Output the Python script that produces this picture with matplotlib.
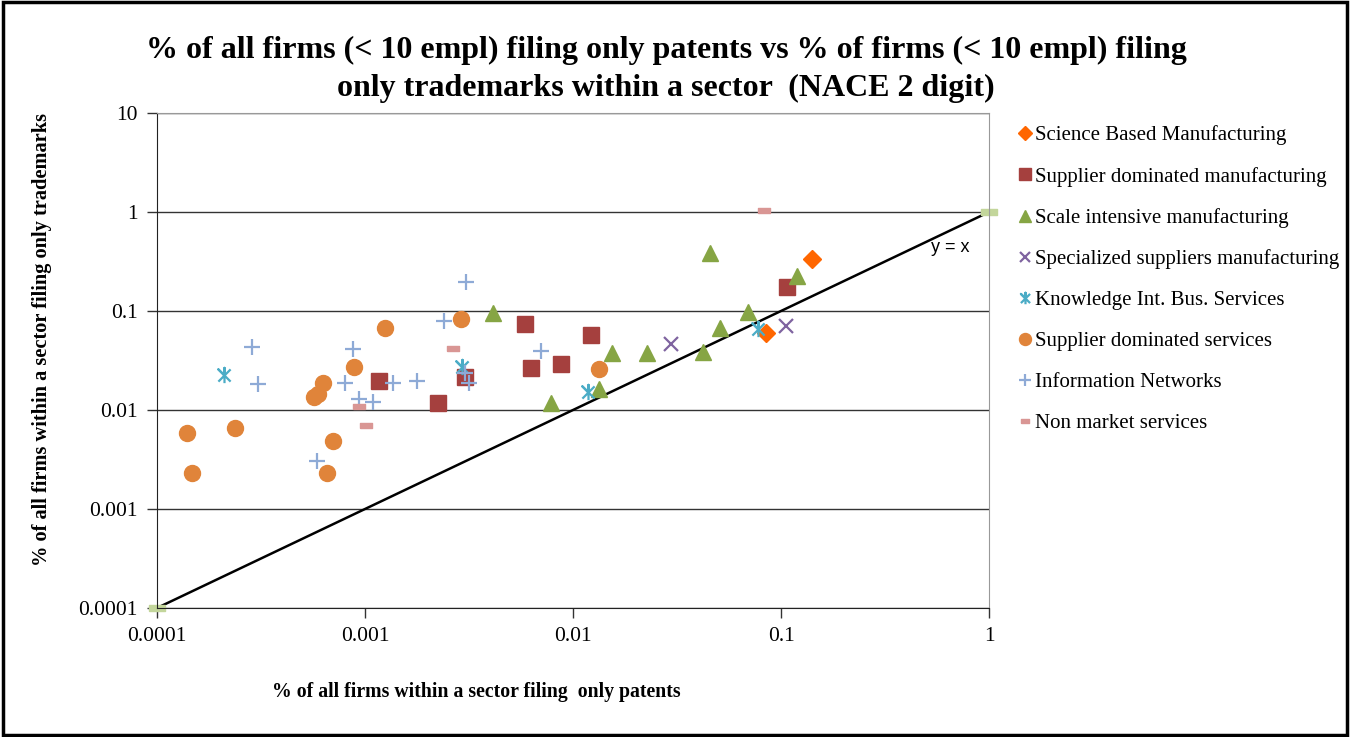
import matplotlib
matplotlib.use("Agg")
import matplotlib.pyplot as plt
from matplotlib.patches import Rectangle

plt.rcParams['font.family'] = ['Liberation Serif', 'DejaVu Serif']

# data (share of firms: patents only, trademarks only)
science_x = [0.0843, 0.141]
science_y = [0.0604, 0.333]

supp_man_x = [0.00117, 0.00224, 0.00303, 0.00588, 0.00627, 0.00879, 0.01223, 0.107]
supp_man_y = [0.0196, 0.0117, 0.0214, 0.0734, 0.0268, 0.0292, 0.0572, 0.176]

scale_x = [0.00411, 0.00783, 0.01334, 0.01535, 0.0226, 0.0422, 0.0509, 0.0697, 0.0456, 0.1197]
scale_y = [0.0961, 0.0117, 0.0163, 0.0379, 0.0379, 0.0388, 0.0669, 0.0984, 0.383, 0.226]

spec_x = [0.0295, 0.1057]
spec_y = [0.0461, 0.0711]

kibs_x = [0.00021, 0.00292, 0.01175, 0.0778]
kibs_y = [0.0226, 0.0275, 0.0151, 0.0658]

supp_serv_x = [0.000139, 0.000147, 0.000237, 0.00057, 0.000593, 0.000627, 0.00089,
               0.0007, 0.000656, 0.00125, 0.0029, 0.01334]
supp_serv_y = [0.00586, 0.00231, 0.00658, 0.0134, 0.0145, 0.0186, 0.0274,
               0.00486, 0.0023, 0.0669, 0.083, 0.026]

info_x = [0.000285, 0.000305, 0.000873, 0.000802, 0.000933, 0.001097, 0.001368,
          0.00178, 0.0024, 0.00305, 0.00303, 0.00317, 0.00059, 0.0070]
info_y = [0.0436, 0.0182, 0.0410, 0.0189, 0.0128, 0.0120, 0.0189,
          0.0196, 0.0793, 0.198, 0.0238, 0.0186, 0.00305, 0.0394]

nonmkt_x = [0.00264, 0.000935, 0.001007, 0.0826]
nonmkt_y = [0.042, 0.011, 0.0070, 1.047]

diag = [0.0001, 1]

tick_vals = [0.0001, 0.001, 0.01, 0.1, 1, 10]
tick_labels = ['0.0001', '0.001', '0.01', '0.1', '1', '10']

dash = [(-1, -0.45), (1, -0.45), (1, 0.45), (-1, 0.45), (-1, -0.45)]
# excel style star: an x with a vertical bar through it
star = [(-0.8, -0.8), (0.8, 0.8), (0, 0), (-0.8, 0.8), (0.8, -0.8), (0, 0), (0, 1), (0, -1)]
from matplotlib.path import Path
star_path = Path(star, [Path.MOVETO, Path.LINETO, Path.MOVETO, Path.LINETO, Path.LINETO,
                        Path.MOVETO, Path.LINETO, Path.LINETO])

fig = plt.figure(figsize=(13.5, 7.37), dpi=100)
ax = fig.add_axes([157 / 1350, 129 / 737, 832 / 1350, 495 / 737])

# y = x reference line with the light green end markers
ax.plot(diag, diag, color='black', lw=1.8, marker=dash, ms=11,
        mfc='#c3d69b', mec='#c3d69b', zorder=2, clip_on=False)

series = [
    (science_x, science_y, 'D', '#ff6600', 9, 'Science Based Manufacturing'),
    (supp_man_x, supp_man_y, 's', '#a5403e', 11.5, 'Supplier dominated manufacturing'),
    (scale_x, scale_y, '^', '#86a544', 11, 'Scale intensive manufacturing'),
    (spec_x, spec_y, 'x', '#7f64a0', 10, 'Specialized suppliers manufacturing'),
    (kibs_x, kibs_y, star_path, '#4bacc6', 11, 'Knowledge Int. Bus. Services'),
    (supp_serv_x, supp_serv_y, 'o', '#e0843a', 11.5, 'Supplier dominated services'),
    (info_x, info_y, '+', '#8eaad6', 11, 'Information Networks'),
    (nonmkt_x, nonmkt_y, dash, '#d99694', 8, 'Non market services'),
]

handles = []
for xs, ys, mk, col, ms, lab in series:
    thin = mk in ('x', '+') or mk is star_path
    h, = ax.plot(xs, ys, ls='none', marker=mk, ms=ms, mfc=col if not thin else 'none', mec=col,
                 mew=1.6 if thin else 1, label=lab, zorder=3)
    handles.append(h)

ax.set_xscale('log')
ax.set_yscale('log')
ax.set_xlim(0.0001, 1)
ax.set_ylim(0.0001, 10)
ax.set_xticks(tick_vals[:5])
ax.set_xticklabels(tick_labels[:5])
ax.set_yticks(tick_vals)
ax.set_yticklabels(tick_labels)
ax.minorticks_off()
ax.tick_params(axis='both', labelsize=15.5, direction='out', length=7, width=1, color='#333333')
ax.tick_params(axis='x', pad=7)
ax.tick_params(axis='y', pad=7)

ax.yaxis.grid(True, color='#333333', lw=1)
ax.set_axisbelow(True)
ax.spines['top'].set_color('#999999')
ax.spines['right'].set_color('#999999')
ax.spines['left'].set_color('#222222')
ax.spines['bottom'].set_color('#222222')

ax.text(0.930, 0.729, 'y = x', transform=ax.transAxes, fontsize=13,
        family='Liberation Sans', va='center', ha='left')

fig.text(666 / 1350, 1 - 50 / 737,
         '% of all firms (< 10 empl) filing only patents vs % of firms (< 10 empl) filing',
         ha='center', va='center', fontsize=23, fontweight='bold')
fig.text(666 / 1350, 1 - 88 / 737,
         'only trademarks within a sector  (NACE 2 digit)',
         ha='center', va='center', fontsize=23, fontweight='bold')

fig.text(476 / 1350, 1 - 692 / 737, '% of all firms within a sector filing  only patents',
         ha='center', va='center', fontsize=14.2, fontweight='bold')
fig.text(42 / 1350, 1 - 340 / 737, '% of all firms within a sector filing only trademarks',
         ha='center', va='center', fontsize=14.7, fontweight='bold', rotation=90)

fig.legend(handles=handles, loc='upper left', bbox_to_anchor=(1010 / 1350, 1 - 117 / 737),
           frameon=False, fontsize=15, labelspacing=1.03, handlelength=0.6,
           handletextpad=0.2, markerscale=0.75, borderaxespad=0)

# outer chart border
fig.patches.append(Rectangle((0.002, 0.003), 0.996, 0.994, transform=fig.transFigure,
                             fill=False, ec='black', lw=2.5))

fig.savefig('out.png', dpi=100)
